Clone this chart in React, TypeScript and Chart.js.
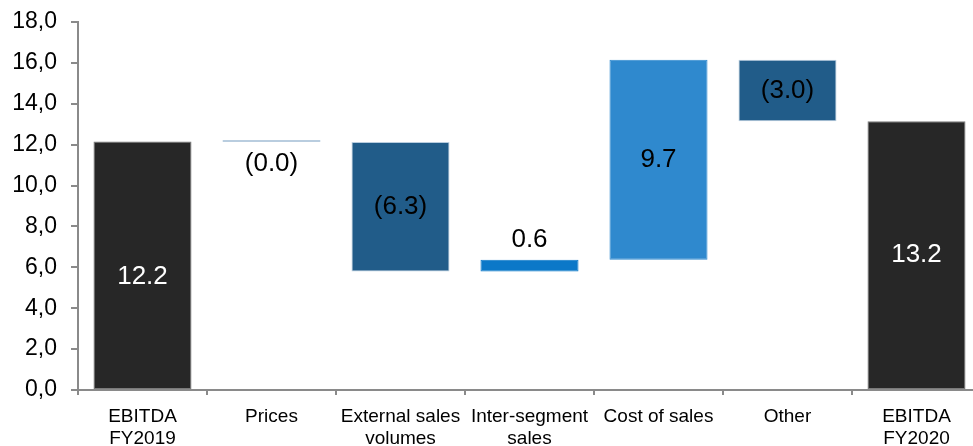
import React, { useEffect, useRef } from "react";
import { Chart, registerables } from "chart.js";

Chart.register(...registerables);

// ---- Data ----
const categories: (string | string[])[] = [
  ["EBITDA", "FY2019"],
  "Prices",
  ["External sales", "volumes"],
  ["Inter-segment", "sales"],
  "Cost of sales",
  "Other",
  ["EBITDA", "FY2020"],
];
const startValue = 12.15;
const changes = [-0.02, -6.33, 0.57, 9.78, -3.0];
const endValue = 13.15;
const valueLabels = ["12.2", "(0.0)", "(6.3)", "0.6", "9.7", "(3.0)", "13.2"];
const yMin = 0;
const yMax = 18;
const yStep = 2;

// ---- Styles ----
const FONT = '"Liberation Sans", Arial, sans-serif';
const barColors = ["#272727", "#B9CDDF", "#215C89", "#0B78C8", "#2F89CE", "#215C89", "#272727"];
const borderColors = ["#7a7a7a", "#B9CDDF", "#B9CDDF", "#0B78C8", "#2F89CE", "#B9CDDF", "#7a7a7a"];
const labelColors = ["#ffffff", "#000000", "#000000", "#000000", "#000000", "#000000", "#ffffff"];
const labelShiftY = [12, 0, 0, 0, 0, 0, 0];

function buildRanges(): [number, number][] {
  const out: [number, number][] = [[0, startValue]];
  let cum = startValue;
  for (const c of changes) {
    out.push([cum, cum + c]);
    cum += c;
  }
  out.push([0, endValue]);
  return out;
}

const labelPlugin = {
  id: "waterfallLabels",
  afterDatasetsDraw(chart: any) {
    const ctx = chart.ctx as CanvasRenderingContext2D;
    const meta = chart.getDatasetMeta(0);
    ctx.save();
    ctx.font = `26px ${FONT}`;
    ctx.textAlign = "center";
    ctx.textBaseline = "middle";
    meta.data.forEach((bar: any, i: number) => {
      const top = Math.min(bar.y, bar.base);
      const bottom = Math.max(bar.y, bar.base);
      const h = bottom - top;
      let y: number;
      if (h > 34) {
        y = (top + bottom) / 2 + labelShiftY[i];
      } else {
        const raw = chart.data.datasets[0].data[i] as [number, number];
        const positive = raw[1] >= raw[0] && i !== 1;
        y = positive ? top - 20 : bottom + 22;
      }
      ctx.fillStyle = labelColors[i];
      ctx.fillText(valueLabels[i], bar.x, y);
    });
    ctx.restore();
  },
};

export default function App() {
  const ref = useRef<HTMLCanvasElement | null>(null);

  useEffect(() => {
    if (!ref.current) return;
    const chart = new Chart(ref.current, {
      type: "bar",
      data: {
        labels: categories as any,
        datasets: [
          {
            data: buildRanges() as any,
            backgroundColor: barColors,
            borderColor: borderColors,
            borderWidth: 1,
            borderSkipped: false,
            barPercentage: 0.76,
            categoryPercentage: 1,
            minBarLength: 2,
          },
        ],
      },
      options: {
        responsive: false,
        animation: false,
        devicePixelRatio: 1,
        layout: { padding: { top: 22, left: 0, right: 0, bottom: 0 } },
        plugins: {
          legend: { display: false },
          tooltip: { enabled: false },
        },
        scales: {
          x: {
            grid: {
              drawOnChartArea: false,
              drawTicks: true,
              tickLength: 5,
              color: "#8a8a8a",
              lineWidth: 2,
              offset: true,
            },
            border: { color: "#8a8a8a", width: 2 },
            ticks: {
              color: "#000000",
              font: { family: FONT, size: 19, lineHeight: 1.2 },
              padding: 10,
              maxRotation: 0,
              autoSkip: false,
            },
            afterFit(scale: any) {
              scale.height = 56;
              scale.paddingLeft = 0;
              scale.paddingRight = 0;
            },
          },
          y: {
            min: yMin,
            max: yMax,
            grid: {
              drawOnChartArea: false,
              drawTicks: true,
              tickLength: 7,
              color: "#8a8a8a",
              lineWidth: 2,
            },
            border: { color: "#8a8a8a", width: 2 },
            ticks: {
              stepSize: yStep,
              color: "#000000",
              font: { family: FONT, size: 23 },
              padding: 14,
              callback: (v: any) => Number(v).toFixed(1).replace(".", ","),
            },
            afterFit(scale: any) {
              scale.width = 78;
              scale.paddingTop = 0;
              scale.paddingBottom = 0;
            },
          },
        },
      },
      plugins: [labelPlugin],
    });
    return () => chart.destroy();
  }, []);

  return (
    <div
      style={{
        position: "fixed",
        left: 0,
        top: 0,
        width: 973,
        height: 446,
        overflow: "hidden",
        background: "#ffffff",
      }}
    >
      <canvas ref={ref} width={981} height={446} style={{ display: "block", width: 981, height: 446 }} />
    </div>
  );
}
